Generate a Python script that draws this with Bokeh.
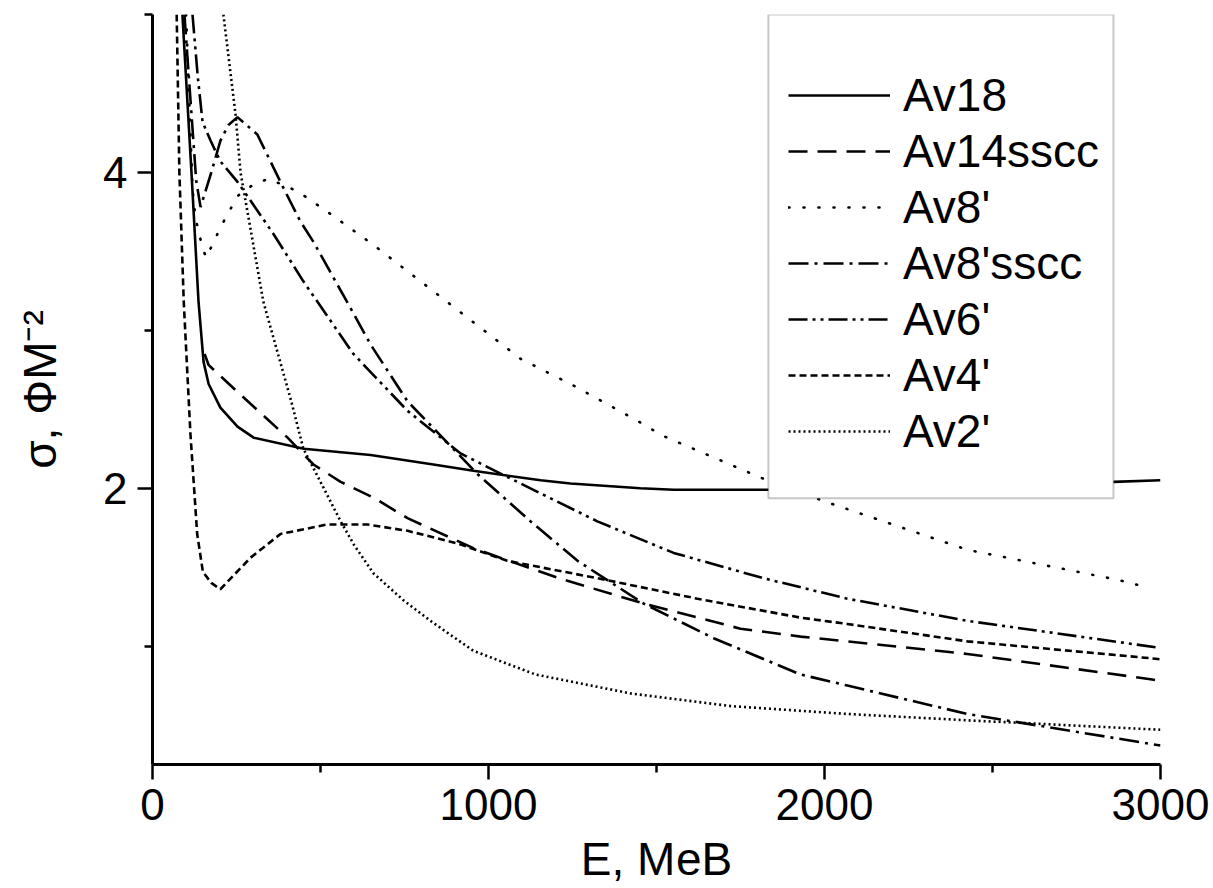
from bokeh.plotting import figure
from bokeh.models import Range1d, FixedTicker, Legend, LegendItem, BoxAnnotation
from bokeh.embed import file_html
from bokeh.resources import INLINE

# ---- data ----
av18_E = [89, 116, 137, 152, 167, 202, 253, 301, 450, 649, 836, 955, 1155, 1244, 1452, 1551, 1830, 2100, 2400, 2700, 2860, 3000]
av18_s = [5.0, 4.0, 3.18, 2.80, 2.66, 2.51, 2.39, 2.32, 2.25, 2.21, 2.15, 2.11, 2.05, 2.03, 2.00, 1.99, 1.99, 2.00, 2.01, 2.03, 2.04, 2.05]

av14_E = [155, 167, 253, 330, 402, 479, 560, 658, 759, 955, 1074, 1224, 1461, 1750, 1929, 2068, 2425, 2970, 3000]
av14_s = [2.85, 2.78, 2.61, 2.46, 2.32, 2.15, 2.04, 1.94, 1.81, 1.62, 1.53, 1.42, 1.27, 1.11, 1.06, 1.03, 0.95, 0.79, 0.78]

av8_E = [100, 119, 128, 149, 160, 202, 253, 298, 345, 432, 521, 658, 798, 1095, 1244, 1432, 1521, 1818, 2009, 2425, 2872, 2964]
av8_s = [5.0, 3.90, 3.71, 3.52, 3.46, 3.65, 3.85, 3.92, 3.96, 3.88, 3.75, 3.54, 3.31, 2.82, 2.66, 2.44, 2.33, 2.06, 1.91, 1.61, 1.42, 1.37]

av8s_E = [95, 115, 130, 143, 175, 202, 226, 253, 312, 390, 440, 479, 600, 649, 759, 827, 967, 1125, 1265, 1461, 1670, 1929, 2068, 2425, 3000]
av8s_s = [5.0, 4.4, 3.95, 3.78, 4.0, 4.20, 4.30, 4.35, 4.24, 3.90, 3.69, 3.56, 3.10, 2.91, 2.55, 2.40, 2.09, 1.79, 1.54, 1.27, 1.05, 0.82, 0.75, 0.57, 0.37]

av6_E = [119, 135, 149, 173, 202, 253, 292, 360, 449, 598, 759, 917, 1057, 1324, 1551, 1818, 2068, 2425, 2994]
av6_s = [5.0, 4.6, 4.32, 4.20, 4.07, 3.94, 3.82, 3.61, 3.31, 2.85, 2.49, 2.22, 2.07, 1.79, 1.59, 1.43, 1.30, 1.16, 0.99]

av4_E = [72, 80, 93, 113, 133, 150, 175, 202, 292, 381, 520, 640, 759, 908, 1056, 1324, 1622, 1929, 2068, 2425, 2985, 3000]
av4_s = [5.0, 4.0, 3.18, 2.34, 1.71, 1.47, 1.40, 1.36, 1.56, 1.71, 1.77, 1.77, 1.73, 1.65, 1.54, 1.43, 1.30, 1.18, 1.14, 1.03, 0.92, 0.915]

av2_E = [211, 247, 262, 330, 413, 449, 500, 560, 600, 658, 747, 827, 955, 1140, 1423, 1720, 2068, 2425, 3000]
av2_s = [5.0, 4.37, 4.0, 3.18, 2.55, 2.25, 2.04, 1.79, 1.64, 1.46, 1.29, 1.16, 0.97, 0.82, 0.70, 0.62, 0.57, 0.53, 0.47]

series_names = ["Av18", "Av14sscc", "Av8'", "Av8'sscc", "Av6'", "Av4'", "Av2'"]
x_ticks = [0, 1000, 2000, 3000]
x_minor = [500, 1500, 2500]
y_ticks = [2, 4]
y_minor = [1, 3, 5]

FONT = "Liberation Sans"

p = figure(width=1213, height=888,
           x_range=Range1d(0, 3000), y_range=Range1d(0.25, 5.0),
           output_backend="svg", toolbar_location=None,
           min_border_left=152, min_border_right=53,
           min_border_top=14, min_border_bottom=124)
p.outline_line_color = None
p.grid.visible = False
p.background_fill_color = "white"
p.border_fill_color = "white"

p.xaxis.ticker = FixedTicker(ticks=x_ticks, minor_ticks=x_minor)
p.yaxis.ticker = FixedTicker(ticks=y_ticks, minor_ticks=y_minor)
for ax in (p.xaxis[0], p.yaxis[0]):
    ax.axis_line_width = 3
    ax.axis_line_color = "black"
    ax.major_tick_line_width = 2.5
    ax.minor_tick_line_width = 2.5
    ax.major_tick_line_color = "black"
    ax.minor_tick_line_color = "black"
    ax.major_tick_out = 15
    ax.major_tick_in = 0
    ax.minor_tick_out = 8
    ax.minor_tick_in = 0
    ax.major_label_text_font = FONT
    ax.major_label_text_font_size = "44px"
    ax.major_label_text_color = "black"
    ax.axis_label_text_font = FONT
    ax.axis_label_text_font_size = "46px"
    ax.axis_label_text_font_style = "normal"
    ax.axis_label_text_color = "black"
p.xaxis.major_label_standoff = 9
p.yaxis.major_label_standoff = 10
p.xaxis.axis_label = "E, МеВ"
p.xaxis.axis_label_standoff = 10
p.yaxis.axis_label = "σ, ФМ⁻²"
p.yaxis.axis_label_standoff = 34

lw = 2.6
r18 = p.line(av18_E, av18_s, line_color="black", line_width=lw)
r14 = p.line(av14_E, av14_s, line_color="black", line_width=lw, line_dash="19 10")
r8 = p.line(av8_E, av8_s, line_color="black", line_width=lw, line_dash="1 14", line_cap="round")
r8s = p.line(av8s_E, av8s_s, line_color="black", line_width=lw, line_dash="20 6 3 6")
r6 = p.line(av6_E, av6_s, line_color="black", line_width=lw, line_dash="19 5 3 5 3 5")
r4 = p.line(av4_E, av4_s, line_color="black", line_width=lw, line_dash="7 4")
r2 = p.line(av2_E, av2_s, line_color="black", line_width=lw, line_dash="2 3")

# legend frame
p.add_layout(BoxAnnotation(left=1833, right=2860, bottom=1.937, top=5.0,
                           fill_color="white", fill_alpha=1.0,
                           line_color="#444444", line_width=2))

renderers = [r18, r14, r8, r8s, r6, r4, r2]
legend = Legend(items=[LegendItem(label=n, renderers=[r]) for n, r in zip(series_names, renderers)],
                location=(636, 305), padding=0, margin=0, spacing=0,
                glyph_width=102, glyph_height=56, label_height=56, label_standoff=13,
                label_text_font=FONT, label_text_font_size="46px", label_text_color="black",
                border_line_alpha=0, background_fill_alpha=0)
p.add_layout(legend)

open("out.html", "w").write(file_html(p, INLINE))
